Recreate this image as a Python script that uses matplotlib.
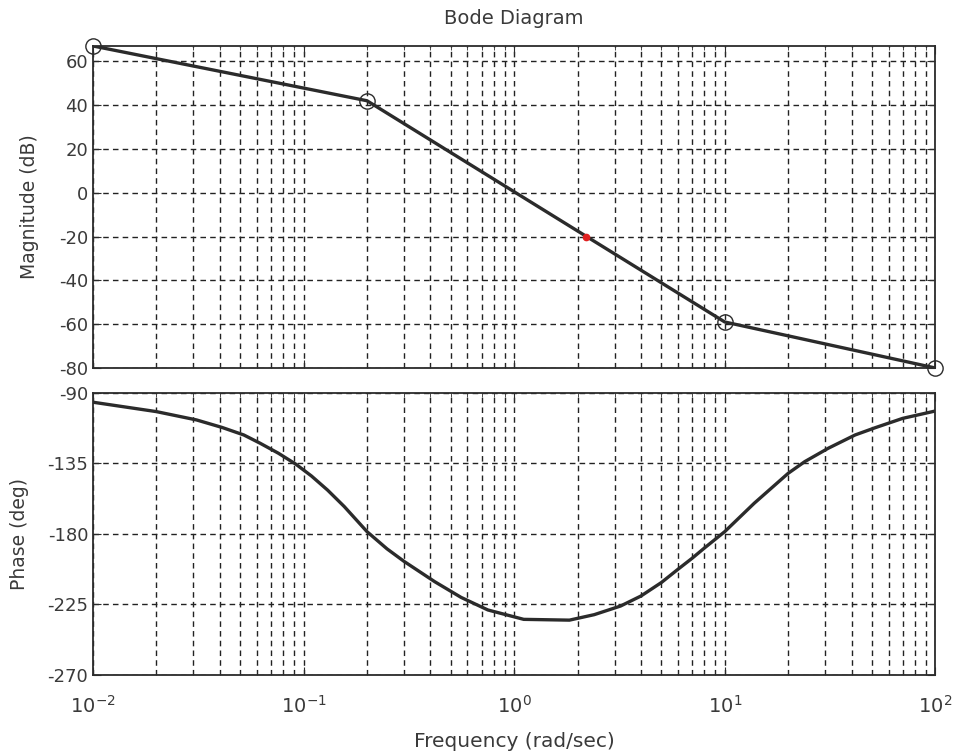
import matplotlib
matplotlib.use("Agg")
import matplotlib.pyplot as plt
import numpy as np
from matplotlib.ticker import LogLocator, NullFormatter

plt.rcParams['font.family'] = ['DejaVu Sans']
plt.rcParams['axes.unicode_minus'] = False

INK = '#2b2b2b'
TXT = '#3a3a3a'

# ---- data ----
# magnitude asymptote break points (rad/sec, dB)
mag_freq = [0.01, 0.2, 10.0, 100.0]
mag_db = [67, 42, -59, -80]

# red mark on the magnitude line
red_freq = [2.2]
red_db = [-20]

# phase curve (rad/sec, deg)
ph_freq = [0.01, 0.02, 0.031, 0.041, 0.052, 0.062, 0.076, 0.092, 0.109, 0.13,
           0.156, 0.2, 0.249, 0.30, 0.42, 0.56, 0.75, 1.11, 1.83, 2.4,
           3.2, 4.0, 5.0, 6.0, 7.0, 8.0, 10.0, 13.8, 20.0, 24.0,
           31.0, 41.6, 52.0, 70.0, 100.0]
ph_deg = [-95.9, -101.9, -107.2, -112.0, -116.8, -122.0, -128.5, -135.5, -143.0, -152.0,
          -162.5, -178.5, -189.5, -197.5, -210.5, -220.5, -228.5, -234.5, -235.0, -231.5,
          -226.0, -219.6, -211.0, -202.5, -195.5, -189.0, -178.5, -160.4, -141.3, -133.8,
          -125.3, -116.8, -112.1, -106.2, -101.5]

mag_ticks = [-80, -60, -40, -20, 0, 20, 40, 60]
ph_ticks = [-270, -225, -180, -135, -90]

fig = plt.figure(figsize=(9.55, 7.55), dpi=100)
ax1 = fig.add_axes([0.0974, 0.5126, 0.882, 0.4265])
ax2 = fig.add_axes([0.0974, 0.106, 0.882, 0.3735])

for ax in (ax1, ax2):
    ax.set_xscale('log')
    ax.set_xlim(0.01, 100)
    ax.xaxis.set_major_locator(LogLocator(base=10))
    ax.xaxis.set_minor_locator(LogLocator(base=10, subs=np.arange(2, 10)))
    ax.xaxis.set_minor_formatter(NullFormatter())
    ax.grid(True, which='major', color='#222222', linestyle=(0, (4, 3)), linewidth=1.0)
    ax.grid(True, which='minor', axis='x', color='#222222', linestyle=(0, (4, 3)), linewidth=1.0)
    ax.tick_params(which='both', direction='in', top=True, right=True, colors=INK,
                   labelcolor=TXT, labelsize=13)
    ax.tick_params(which='major', length=6)
    ax.tick_params(which='minor', length=3)
    for s in ax.spines.values():
        s.set_color(INK)
        s.set_linewidth(1.3)

ax1.plot(mag_freq, mag_db, color=INK, linewidth=2.4, zorder=3)
ax1.plot(mag_freq, mag_db, linestyle='none', marker='o', markersize=11,
         markerfacecolor='none', markeredgecolor=INK, markeredgewidth=1.0,
         clip_on=False, zorder=4)
ax1.plot(red_freq, red_db, linestyle='none', marker='o', markersize=4.5,
         color='#e02020', zorder=5)
ax1.set_ylim(-80, 67)
ax1.set_yticks(mag_ticks)
ax1.tick_params(axis='x', labelbottom=False)
ax1.set_ylabel('Magnitude (dB)', fontsize=13.5, color=TXT, labelpad=14)
ax1.set_title('Bode Diagram', fontsize=14, color=TXT, pad=16)

ax2.plot(ph_freq, ph_deg, color=INK, linewidth=2.4, zorder=3)
ax2.set_ylim(-270, -90)
ax2.set_yticks(ph_ticks)
ax2.set_ylabel('Phase (deg)', fontsize=13.5, color=TXT, labelpad=13)
ax2.set_xlabel('Frequency (rad/sec)', fontsize=14.5, color=TXT, labelpad=11)
ax2.tick_params(axis='x', labelsize=14, pad=14)

fig.savefig('out.png', dpi=100)
